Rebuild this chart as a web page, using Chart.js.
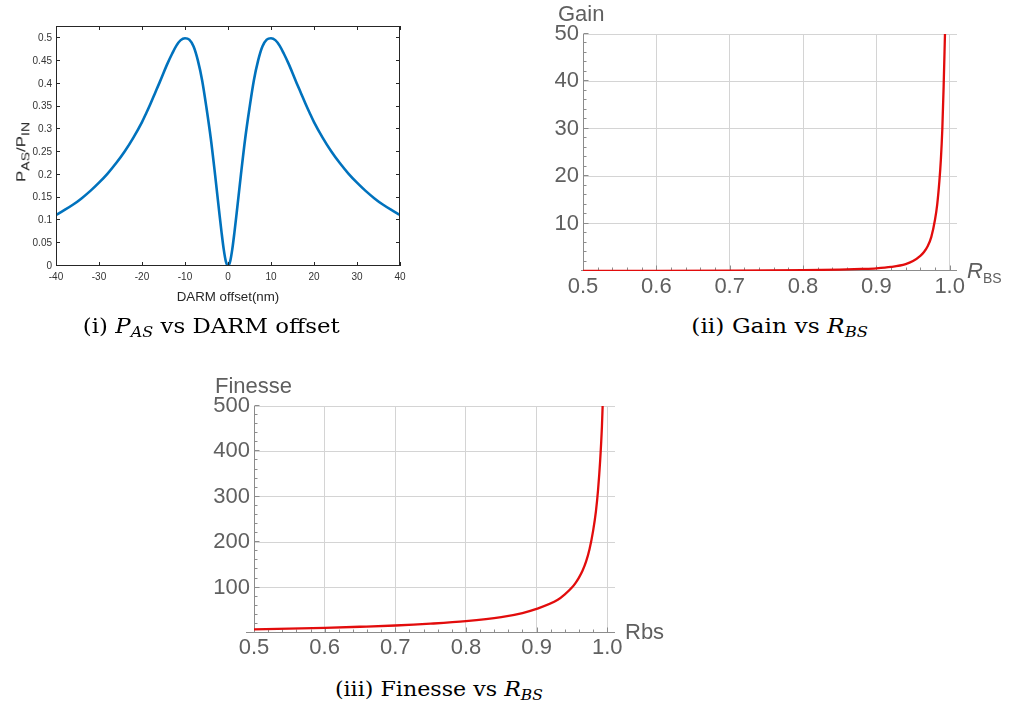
<!DOCTYPE html>
<html><head><meta charset="utf-8">
<script src="https://cdn.jsdelivr.net/npm/chart.js@4.4.1/dist/chart.umd.min.js"></script>
<style>
html,body{margin:0;padding:0;background:#fff;}
body{width:1017px;height:708px;position:relative;overflow:hidden;}
canvas{position:absolute;}
.lbl{position:absolute;white-space:nowrap;line-height:1;}
.mma{font-family:"Liberation Sans",Arial,sans-serif;font-size:22px;color:#5f5f5f;}
.mat{font-family:"Liberation Sans",Arial,sans-serif;font-size:13.3px;color:#262626;}
.mat sub{font-size:11px;vertical-align:0;position:relative;top:4px;}
.cap{font-family:"DejaVu Serif",serif;font-size:20px;color:#000;transform-origin:center center;}
.cap sub{font-size:14px;vertical-align:0;position:relative;top:4px;}
</style></head>
<body>
<canvas id="c1" width="420" height="310" style="left:0;top:0"></canvas>
<canvas id="c2" width="477" height="310" style="left:540px;top:0"></canvas>
<canvas id="c3" width="480" height="300" style="left:200px;top:370px"></canvas>

<div class="lbl mat" id="ylab1" style="left:21px;top:152px">P<sub>AS</sub>/P<sub>IN</sub></div>
<div class="lbl mat" id="xlab1" style="left:228px;top:290px;transform:translateX(-50%)">DARM offset(nm)</div>
<div class="lbl mma" style="left:558px;top:3px">Gain</div>
<div class="lbl mma" style="left:967px;top:260px"><i>R</i><span style="font-size:14px;position:relative;top:5px">BS</span></div>
<div class="lbl mma" style="left:215px;top:375px">Finesse</div>
<div class="lbl mma" style="left:625px;top:621px">Rbs</div>
<div class="lbl cap" id="cap1" style="top:316px">(i) <i>P</i><sub><i>AS</i></sub> vs DARM offset</div>
<div class="lbl cap" id="cap2" style="top:316px">(ii) Gain vs <i>R</i><sub><i>BS</i></sub></div>
<div class="lbl cap" id="cap3" style="top:679px">(iii) Finesse vs <i>R</i><sub><i>BS</i></sub></div>

<script>
// ---------- data ----------
const darmOffset = [-40,-38,-36,-34,-32,-30,-28,-26,-24,-22,-20,-19,-18,-17,-16,-15,-14,-13,-12,-11,-10,-9,-8,-7,-6,-5,-4,-3,-2,-1.5,-1,-0.5,0,0.5,1,1.5,2,3,4,5,6,7,8,9,10,11,12,13,14,15,16,17,18,19,20,22,24,26,28,30,32,34,36,38,40];
const powerRatio = [0.112,0.123,0.135,0.149,0.165,0.183,0.203,0.226,0.252,0.282,0.316,0.336,0.357,0.379,0.401,0.424,0.446,0.466,0.484,0.496,0.5,0.497,0.482,0.451,0.407,0.347,0.28,0.2,0.115,0.074,0.037,0.01,0,0.01,0.037,0.074,0.115,0.2,0.28,0.347,0.407,0.451,0.482,0.497,0.5,0.496,0.484,0.466,0.446,0.424,0.401,0.379,0.357,0.336,0.316,0.282,0.252,0.226,0.203,0.183,0.165,0.149,0.135,0.123,0.112];
const darmTicks = [-40,-30,-20,-10,0,10,20,30,40];
const darmTickLabels = ['-40','-30','-20','-10','0','10','20','30','40'];
const powerTicks = [0,0.05,0.1,0.15,0.2,0.25,0.3,0.35,0.4,0.45,0.5];
const powerTickLabels = ['0','0.05','0.1','0.15','0.2','0.25','0.3','0.35','0.4','0.45','0.5'];

const rbsGain = [0.5,0.6,0.7,0.8,0.85,0.88,0.9,0.92,0.94,0.95,0.96,0.965,0.97,0.975,0.98,0.983,0.986,0.988,0.99,0.9918,0.9936];
const gain = [0.02,0.04,0.08,0.18,0.3,0.43,0.56,0.85,1.45,2.1,3.2,4.0,5.2,7.2,10.8,14.0,19.0,23.5,30,39,50];
const gainTicks = [0,10,20,30,40,50];
const gainTickLabels = ['','10','20','30','40','50'];

const rbsFinesse = [0.5,0.55,0.6,0.65,0.7,0.75,0.8,0.85,0.88,0.9,0.93,0.94,0.95,0.955,0.96,0.965,0.97,0.975,0.98,0.984,0.987,0.99,0.9925,0.9935];
const finesse = [8,9.6,11.5,13.8,16.5,20.5,26,35,44,53,73,85,100,110,122,137,157,185,225,268,315,380,455,500];
const finesseTicks = [0,100,200,300,400,500];
const finesseTickLabels = ['','100','200','300','400','500'];

const rbsTicks = [0.5,0.6,0.7,0.8,0.9,1.0];
const rbsTickLabels = ['0.5','0.6','0.7','0.8','0.9','1.0'];

// ---------- plugins ----------
const matlabBox = {
  id: 'matlabBox',
  afterDatasetsDraw(chart) {
    const {ctx, chartArea: a, scales: {x, y}} = chart;
    ctx.save();
    ctx.strokeStyle = '#262626'; ctx.lineWidth = 1;
    ctx.strokeRect(a.left + 0.5, a.top + 0.5, a.right - a.left - 1, a.bottom - a.top - 1);
    ctx.beginPath();
    const L = 4;
    x.ticks.forEach(t => { const p = Math.round(x.getPixelForValue(t.value)) + 0.5;
      ctx.moveTo(p, a.bottom); ctx.lineTo(p, a.bottom - L); ctx.moveTo(p, a.top); ctx.lineTo(p, a.top + L); });
    y.ticks.forEach(t => { const p = Math.round(y.getPixelForValue(t.value)) - 0.5;
      ctx.moveTo(a.left, p); ctx.lineTo(a.left + L, p); ctx.moveTo(a.right, p); ctx.lineTo(a.right - L, p); });
    ctx.stroke(); ctx.restore();
  }
};

const mmaAxes = {
  id: 'mmaAxes',
  beforeDatasetsDraw(chart, args, o) {
    const {ctx, chartArea: a, scales: {x, y}} = chart;
    const y0 = Math.round(y.getPixelForValue(0)) - 0.5;
    const x0 = Math.round(x.getPixelForValue(x.min)) + 0.5;
    ctx.save(); ctx.strokeStyle = '#8c8c8c'; ctx.lineWidth = 1; ctx.beginPath();
    ctx.moveTo(a.left - o.ext, y0); ctx.lineTo(a.right, y0);
    ctx.moveTo(x0, y0); ctx.lineTo(x0, a.top);
    for (let i = 1; i <= o.xCount; i++) {
      const v = x.min + i * o.xStep;
      if (v > x.max + 1e-9) break;
      const p = Math.round(x.getPixelForValue(v)) + 0.5;
      const L = (i % 5 === 0) ? 5 : 3;
      ctx.moveTo(p, y0); ctx.lineTo(p, y0 - L);
    }
    for (let i = 1; i <= o.yCount; i++) {
      const v = i * o.yStep;
      const p = Math.round(y.getPixelForValue(v)) - 0.5;
      const L = (i % 5 === 0) ? 5 : 3;
      ctx.moveTo(x0, p); ctx.lineTo(x0 + L, p);
    }
    ctx.stroke(); ctx.restore();
  }
};

Chart.defaults.font.family = '"Liberation Sans", Arial, sans-serif';

// ---------- chart (i) ----------
new Chart(document.getElementById('c1'), {
  type: 'line',
  data: { datasets: [{
    data: darmOffset.map((v, i) => ({x: v, y: powerRatio[i]})),
    borderColor: '#0072BD', borderWidth: 2.6, pointRadius: 0, fill: false,
    cubicInterpolationMode: 'monotone'
  }]},
  options: {
    responsive: false, animation: false, devicePixelRatio: 1,
    layout: { padding: {left: 0, top: 26, right: 20, bottom: 0} },
    plugins: { legend: {display: false}, tooltip: {enabled: false} },
    scales: {
      x: { type: 'linear', min: -40, max: 40,
        afterBuildTicks: s => { s.ticks = darmTicks.map(v => ({value: v})); },
        afterFit: s => { s.height = 44; },
        grid: {display: false, drawTicks: false}, border: {display: false},
        ticks: {autoSkip: false, maxRotation: 0, padding: 5, color: '#333', font: {size: 10},
          callback: (v, i) => darmTickLabels[i]} },
      y: { type: 'linear', min: 0, max: 0.527,
        afterBuildTicks: s => { s.ticks = powerTicks.map(v => ({value: v})); },
        afterFit: s => { s.width = 56; },
        grid: {display: false, drawTicks: false}, border: {display: false},
        ticks: {autoSkip: false, padding: 4, color: '#333', font: {size: 10},
          callback: (v, i) => powerTickLabels[i]} }
    }
  },
  plugins: [matlabBox]
});

// ---------- mathematica-style helper ----------
function mmaChart(id, xs, ys, opt) {
  return new Chart(document.getElementById(id), {
    type: 'line',
    data: { datasets: [{
      data: xs.map((v, i) => ({x: v, y: ys[i]})),
      borderColor: 'rgb(226,12,12)', borderWidth: 2.3, pointRadius: 0, fill: false,
      cubicInterpolationMode: 'monotone'
    }]},
    options: {
      responsive: false, animation: false, devicePixelRatio: 1,
      layout: { padding: {left: 0, top: opt.top, right: opt.right, bottom: 0} },
      plugins: { legend: {display: false}, tooltip: {enabled: false}, mmaAxes: opt.axes },
      scales: {
        x: { type: 'linear', min: 0.5, max: opt.xmax,
          afterBuildTicks: s => { s.ticks = rbsTicks.map(v => ({value: v})); },
          afterFit: s => { s.height = opt.xh; },
          grid: {drawTicks: false, color: c => (c.tick && c.tick.value === 0.5) ? 'rgba(0,0,0,0)' : '#d4d4d4'},
          border: {display: false},
          ticks: {autoSkip: false, maxRotation: 0, padding: opt.xpad, color: '#606060', font: {size: 22},
            callback: (v, i) => rbsTickLabels[i]} },
        y: { type: 'linear', min: 0, max: opt.ymax,
          afterBuildTicks: s => { s.ticks = opt.yTicks.map(v => ({value: v})); },
          afterFit: s => { s.width = opt.yw; },
          grid: {drawTicks: false, color: c => (c.tick && c.tick.value === 0) ? 'rgba(0,0,0,0)' : '#d4d4d4'},
          border: {display: false},
          ticks: {autoSkip: false, padding: opt.ypad, color: '#606060', font: {size: 22},
            callback: (v, i) => opt.yLabels[i]} }
      }
    },
    plugins: [mmaAxes]
  });
}

mmaChart('c2', rbsGain, gain, {top: 34, right: 60, xh: 39, yw: 43, xmax: 1.01, ymax: 50,
  xpad: 3, ypad: 4, yTicks: gainTicks, yLabels: gainTickLabels,
  axes: {ext: 2, xStep: 0.02, xCount: 25, yStep: 2, yCount: 25}});

mmaChart('c3', rbsFinesse, finesse, {top: 36, right: 65, xh: 37, yw: 54, xmax: 1.011, ymax: 500,
  xpad: 2, ypad: 4, yTicks: finesseTicks, yLabels: finesseTickLabels,
  axes: {ext: 8, xStep: 0.02, xCount: 25, yStep: 20, yCount: 25}});

// ---------- fit text widths ----------
function fitCap(id, cx, w) {
  const el = document.getElementById(id);
  const w0 = el.getBoundingClientRect().width;
  el.style.left = (cx - w0 / 2) + 'px';
  el.style.transform = 'scaleX(' + (w / w0) + ')';
}
fitCap('cap1', 211.5, 257);
fitCap('cap2', 780, 176.6);
fitCap('cap3', 439, 208);
(function(){
  const el = document.getElementById('ylab1');
  const w0 = el.getBoundingClientRect().width;
  el.style.transform = 'translate(-50%,-50%) rotate(-90deg) scaleX(' + (60 / w0) + ')';
})();
</script>
</body></html>
